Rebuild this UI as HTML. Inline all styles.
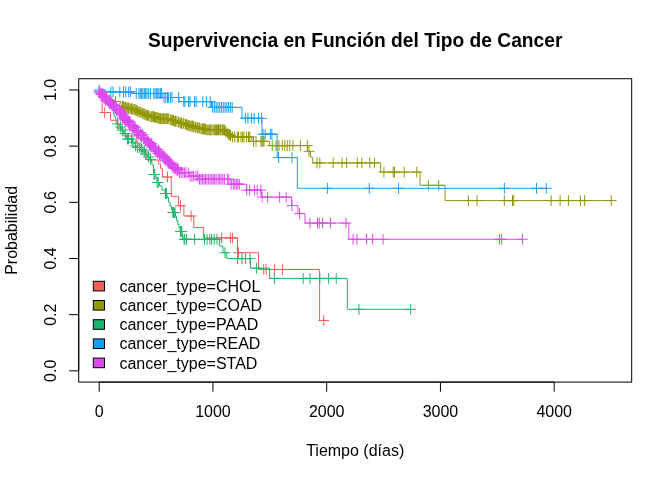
<!DOCTYPE html>
<html><head><meta charset="utf-8"><title>Supervivencia</title>
<style>svg{will-change:transform}html,body{margin:0;padding:0;background:#fff;width:672px;height:480px;overflow:hidden}svg{display:block}</style>
</head><body>
<svg width="672" height="480" viewBox="0 0 672 480">
<rect width="672" height="480" fill="#fff"/>
<path d="M99.2 89.96L102.2 89.96L102.2 112.5L110.5 112.5L110.5 120.3L118 120.3L118 128.3L123 128.3L123 136L136.9 136L136.9 144L141.5 144L141.5 152L147 152L147 160L158.3 160L158.3 164L160.5 164L160.5 168.3L162.5 168.3L162.5 177L171.3 177L171.3 196.3L178.6 196.3L178.6 205.7L183.9 205.7L183.9 216L193.75 216L193.75 227.5L203.6 227.5L203.6 237.9L237.5 237.9L237.5 252.7L258.5 252.7L258.5 269.5L319.6 269.5L319.6 320.5L323.75 320.5" fill="none" stroke="#F35E5A" stroke-width="1"/>
<path d="M99.3 112.5h10.8M104.7 107.1v10.8M162.1 177h10.8M167.5 171.6v10.8M175.1 205.7h10.8M180.5 200.3v10.8M185.7 216h10.8M191.1 210.6v10.8M216.2 237.9h10.8M221.6 232.5v10.8M225 237.9h10.8M230.4 232.5v10.8M227.1 237.9h10.8M232.5 232.5v10.8M233 252.7h10.8M238.4 247.3v10.8M258.3 269.5h10.8M263.7 264.1v10.8M260.7 269.5h10.8M266.1 264.1v10.8M269 269.5h10.8M274.4 264.1v10.8M277 269.5h10.8M282.4 264.1v10.8M318.35 320.5h10.8M323.75 315.1v10.8" fill="none" stroke="#F35E5A" stroke-width="1"/>
<path d="M99.2 89.96L99.48 89.96L99.48 90.6L100 90.6L100 91.75L100.48 91.75L100.48 92.84L100.8 92.84L100.8 93.56L101 93.56L101 94L103.16 94L103.16 94.86L105.68 94.86L105.68 95.87L106 95.87L106 96L107.01 96L107.01 96.61L107.95 96.61L107.95 97.17L109.85 97.17L109.85 98.31L111 98.31L111 99L112.96 99L112.96 100.09L113.93 100.09L113.93 100.63L115.48 100.63L115.48 101.49L115.5 101.49L120.5 101.5L120.5 101.8L120.76 101.8L120.76 103.02L121.01 103.02L121.01 104.21L121.13 104.21L121.13 104.77L121.25 104.77L121.25 105.33L121.45 105.33L121.45 106.26L121.5 106.26L121.5 106.5L124.61 106.5L124.61 107.31L127.26 107.31L127.26 108.01L130.48 108.01L130.48 108.85L132.62 108.85L132.62 109.42L135.29 109.42L135.29 110.11L136 110.11L136 110.3L137.63 110.3L137.63 111.2L138.92 111.2L138.92 111.9L140 111.9L140 112.5L141.66 112.5L141.66 113.2L143.73 113.2L143.73 114.07L145.52 114.07L145.52 114.82L146.84 114.82L146.84 115.37L149.56 115.37L149.56 116.52L150 116.52L150 116.7L155.01 116.7L155.01 117.7L158.38 117.7L158.38 118.38L160 118.38L160 118.7L170 118.7L170 119.8L171.84 119.8L171.84 120.43L174.14 120.43L174.14 121.21L177.25 121.21L177.25 122.27L180 122.27L180 123.2L184.19 123.2L184.19 124.41L187.1 124.41L187.1 125.26L190 125.26L190 126.1L193.65 126.1L193.65 127.12L196.36 127.12L196.36 127.88L199.8 127.88L199.8 128.84L200 128.84L200 128.9L206 128.9L206 129.9L223.75 129.9L224.78 129.9L224.78 130.86L225.39 130.86L225.39 131.43L226 131.43L226 132L227.11 132L227.11 133.11L227.95 133.11L227.95 133.95L228.62 133.95L228.62 134.62L229.55 134.62L229.55 135.55L230.6 135.55L230.6 136.6L231 136.6L231 137L251.8 137L251.8 141.4L269.6 141.4L269.6 145.6L307.6 145.6L307.6 151.3L310.5 151.3L310.5 157.2L312.7 157.2L312.7 162.9L380.7 162.9L380.7 172.1L420 172.1L420 185.3L445.1 185.3L445.1 200.6L611.25 200.6" fill="none" stroke="#929706" stroke-width="1"/>
<path d="M110.1 101.5h10.8M115.5 96.1v10.8M117.1 106.5h10.8M122.5 101.1v10.8M118.03 106.5h10.8M123.43 101.1v10.8M119.36 107.31h10.8M124.76 101.91v10.8M120.23 107.31h10.8M125.63 101.91v10.8M120.67 107.31h10.8M126.07 101.91v10.8M121.91 108.01h10.8M127.31 102.61v10.8M123.02 108.01h10.8M128.42 102.61v10.8M123.63 108.01h10.8M129.03 102.61v10.8M125.21 108.85h10.8M130.61 103.45v10.8M126.25 108.85h10.8M131.65 103.45v10.8M126.93 108.85h10.8M132.33 103.45v10.8M128.48 109.42h10.8M133.88 104.02v10.8M129.43 109.42h10.8M134.83 104.02v10.8M130.48 110.11h10.8M135.88 104.71v10.8M130.89 110.3h10.8M136.29 104.9v10.8M132.28 111.2h10.8M137.68 105.8v10.8M133.56 111.9h10.8M138.96 106.5v10.8M134.59 111.9h10.8M139.99 106.5v10.8M135.5 112.5h10.8M140.9 107.1v10.8M136.94 113.2h10.8M142.34 107.8v10.8M137.58 113.2h10.8M142.98 107.8v10.8M138.56 114.07h10.8M143.96 108.67v10.8M139.38 114.07h10.8M144.78 108.67v10.8M140.53 114.82h10.8M145.93 109.42v10.8M141.48 115.37h10.8M146.88 109.97v10.8M142.15 115.37h10.8M147.55 109.97v10.8M143.25 115.37h10.8M148.65 109.97v10.8M144.61 116.7h10.8M150.01 111.3v10.8M145.99 116.7h10.8M151.39 111.3v10.8M147.4 116.7h10.8M152.8 111.3v10.8M147.9 116.7h10.8M153.3 111.3v10.8M148.32 116.7h10.8M153.72 111.3v10.8M149.02 116.7h10.8M154.42 111.3v10.8M150.17 117.7h10.8M155.57 112.3v10.8M150.65 117.7h10.8M156.05 112.3v10.8M151.69 117.7h10.8M157.09 112.3v10.8M152.41 117.7h10.8M157.81 112.3v10.8M153.36 118.38h10.8M158.76 112.98v10.8M154.33 118.38h10.8M159.73 112.98v10.8M155.19 118.7h10.8M160.59 113.3v10.8M155.82 118.7h10.8M161.22 113.3v10.8M157.3 118.7h10.8M162.7 113.3v10.8M157.95 118.7h10.8M163.35 113.3v10.8M159.33 118.7h10.8M164.73 113.3v10.8M159.75 118.7h10.8M165.15 113.3v10.8M161.01 118.7h10.8M166.41 113.3v10.8M162.26 118.7h10.8M167.66 113.3v10.8M163.31 118.7h10.8M168.71 113.3v10.8M164.88 119.8h10.8M170.28 114.4v10.8M165.9 119.8h10.8M171.3 114.4v10.8M167.08 120.43h10.8M172.48 115.03v10.8M168.17 120.43h10.8M173.57 115.03v10.8M169.33 121.21h10.8M174.73 115.81v10.8M170.09 121.21h10.8M175.49 115.81v10.8M171.54 121.21h10.8M176.94 115.81v10.8M172.97 122.27h10.8M178.37 116.87v10.8M174.49 122.27h10.8M179.89 116.87v10.8M175.39 123.2h10.8M180.79 117.8v10.8M175.8 123.2h10.8M181.2 117.8v10.8M176.25 123.2h10.8M181.65 117.8v10.8M177.8 123.2h10.8M183.2 117.8v10.8M178.41 123.2h10.8M183.81 117.8v10.8M179.98 124.41h10.8M185.38 119.01v10.8M180.99 124.41h10.8M186.39 119.01v10.8M181.81 125.26h10.8M187.21 119.86v10.8M183.01 125.26h10.8M188.41 119.86v10.8M183.65 125.26h10.8M189.05 119.86v10.8M184.85 126.1h10.8M190.25 120.7v10.8M185.85 126.1h10.8M191.25 120.7v10.8M187.29 126.1h10.8M192.69 120.7v10.8M187.71 126.1h10.8M193.11 120.7v10.8M188.51 127.12h10.8M193.91 121.72v10.8M189.85 127.12h10.8M195.25 121.72v10.8M190.5 127.12h10.8M195.9 121.72v10.8M191.91 127.88h10.8M197.31 122.48v10.8M192.72 127.88h10.8M198.12 122.48v10.8M193.94 127.88h10.8M199.34 122.48v10.8M195.53 128.9h10.8M200.93 123.5v10.8M196.8 128.9h10.8M202.2 123.5v10.8M197.4 128.9h10.8M202.8 123.5v10.8M198.06 128.9h10.8M203.46 123.5v10.8M199.18 128.9h10.8M204.58 123.5v10.8M200.02 128.9h10.8M205.42 123.5v10.8M200.77 129.9h10.8M206.17 124.5v10.8M201.89 129.9h10.8M207.29 124.5v10.8M203.36 129.9h10.8M208.76 124.5v10.8M204.42 129.9h10.8M209.82 124.5v10.8M204.87 129.9h10.8M210.27 124.5v10.8M206.31 129.9h10.8M211.71 124.5v10.8M207.7 129.9h10.8M213.1 124.5v10.8M208.84 129.9h10.8M214.24 124.5v10.8M209.69 129.9h10.8M215.09 124.5v10.8M210.36 129.9h10.8M215.76 124.5v10.8M211.08 129.9h10.8M216.48 124.5v10.8M212.16 129.9h10.8M217.56 124.5v10.8M213.11 129.9h10.8M218.51 124.5v10.8M214.45 129.9h10.8M219.85 124.5v10.8M214.87 129.9h10.8M220.27 124.5v10.8M215.38 129.9h10.8M220.78 124.5v10.8M216.84 129.9h10.8M222.24 124.5v10.8M217.53 129.9h10.8M222.93 124.5v10.8M218.43 129.9h10.8M223.83 124.5v10.8M219.03 129.9h10.8M224.43 124.5v10.8M220.32 131.43h10.8M225.72 126.03v10.8M221.82 133.11h10.8M227.22 127.71v10.8M223.38 134.62h10.8M228.78 129.22v10.8M224.13 134.62h10.8M229.53 129.22v10.8M225.11 135.55h10.8M230.51 130.15v10.8M227 137h10.8M232.4 131.6v10.8M229.3 137h10.8M234.7 131.6v10.8M231.85 137h10.8M237.25 131.6v10.8M233.1 137h10.8M238.5 131.6v10.8M235.6 137h10.8M241 131.6v10.8M237.1 137h10.8M242.5 131.6v10.8M238.6 137h10.8M244 131.6v10.8M241.2 137h10.8M246.6 131.6v10.8M243.1 137h10.8M248.5 131.6v10.8M244.35 137h10.8M249.75 131.6v10.8M248.1 141.4h10.8M253.5 136v10.8M250.6 141.4h10.8M256 136v10.8M255.6 141.4h10.8M261 136v10.8M256.6 141.4h10.8M262 136v10.8M257.6 141.4h10.8M263 136v10.8M258.6 141.4h10.8M264 136v10.8M266.85 145.6h10.8M272.25 140.2v10.8M270.6 145.6h10.8M276 140.2v10.8M273.6 145.6h10.8M279 140.2v10.8M276.85 145.6h10.8M282.25 140.2v10.8M279.35 145.6h10.8M284.75 140.2v10.8M281.85 145.6h10.8M287.25 140.2v10.8M284.35 145.6h10.8M289.75 140.2v10.8M287.5 145.6h10.8M292.9 140.2v10.8M295 145.6h10.8M300.4 140.2v10.8M301.9 145.6h10.8M307.3 140.2v10.8M303.6 151.3h10.8M309 145.9v10.8M311.6 162.9h10.8M317 157.5v10.8M314.4 162.9h10.8M319.8 157.5v10.8M327.8 162.9h10.8M333.2 157.5v10.8M336.7 162.9h10.8M342.1 157.5v10.8M341.2 162.9h10.8M346.6 157.5v10.8M351.9 162.9h10.8M357.3 157.5v10.8M356.4 162.9h10.8M361.8 157.5v10.8M364.4 162.9h10.8M369.8 157.5v10.8M369.1 162.9h10.8M374.5 157.5v10.8M378.5 172.1h10.8M383.9 166.7v10.8M387.8 172.1h10.8M393.2 166.7v10.8M389.2 172.1h10.8M394.6 166.7v10.8M398.9 172.1h10.8M404.3 166.7v10.8M411.4 172.1h10.8M416.8 166.7v10.8M423 185.3h10.8M428.4 179.9v10.8M433.3 185.3h10.8M438.7 179.9v10.8M463 200.6h10.8M468.4 195.2v10.8M471.7 200.6h10.8M477.1 195.2v10.8M498.9 200.6h10.8M504.3 195.2v10.8M507.1 200.6h10.8M512.5 195.2v10.8M508.3 200.6h10.8M513.7 195.2v10.8M545.7 200.6h10.8M551.1 195.2v10.8M554.7 200.6h10.8M560.1 195.2v10.8M563 200.6h10.8M568.4 195.2v10.8M575 200.6h10.8M580.4 195.2v10.8M579.2 200.6h10.8M584.6 195.2v10.8M605.85 200.6h10.8M611.25 195.2v10.8" fill="none" stroke="#929706" stroke-width="1"/>
<path d="M99.2 89.96L100.53 89.96L100.53 91.37L102.93 91.37L102.93 93.93L103 93.93L103 94L104.01 94L104.01 95.61L105.25 95.61L105.25 97.6L106.45 97.6L106.45 99.52L107.85 99.52L107.85 101.76L108 101.76L108 102L108.75 102L108.75 103.35L109.44 103.35L109.44 104.6L110.85 104.6L110.85 107.13L111.9 107.13L111.9 109.03L113 109.03L113 111L113.3 111L113.3 112.2L113.78 112.2L113.78 114.12L114 114.12L114 115L114.63 115L114.63 116.57L115.71 116.57L115.71 119.28L116 119.28L116 120L116.09 120L116.09 121.25L116.19 121.25L116.19 122.49L116.3 122.49L116.3 124L119.3 124L119.3 124.5L119.81 124.5L119.81 126.31L120 126.31L120 127L121.27 127L121.27 128.88L122.11 128.88L122.11 130.12L123.17 130.12L123.17 131.68L124.4 131.68L124.4 133.5L125.41 133.5L125.41 135.49L126.22 135.49L126.22 137.07L127.01 137.07L127.01 138.64L127.2 138.64L127.2 139L131.75 139L131.75 140.5L132.83 140.5L132.83 142.16L133.63 142.16L133.63 143.4L135.28 143.4L135.28 145.94L136.3 145.94L136.3 147.5L141 147.5L141 149.5L142.2 149.5L142.2 151L144.43 151L144.43 153.79L144.6 153.79L144.6 154L146.32 154L146.32 155.39L148.3 155.39L148.3 157L149.91 157L149.91 159.35L151.52 159.35L151.52 161.69L152 161.69L152 162.4L152 165L153.5 165L153.5 174.5L156 174.5L156 178L157 178L157 182.5L159.5 182.5L159.5 186L162 186L162 190L165 190L165 193.5L167 193.5L167 197.5L168.5 197.5L168.5 202L170 202L170 206L171.5 206L171.5 209.5L172.5 209.5L172.5 212.5L175.5 212.5L175.5 216.5L176.5 216.5L176.5 220.5L177.8 220.5L177.8 224.5L179 224.5L179 228L180.2 228L180.2 231.5L182 231.5L182 235.5L182.6 235.5L182.6 239.3L219.6 239.3L219.6 246.1L223 246.1L223 252.7L226.8 252.7L226.8 258.6L250.5 258.6L250.5 268.2L269.6 268.2L269.6 278.4L347.3 278.4L347.3 309.3L410.7 309.3" fill="none" stroke="#18B56A" stroke-width="1"/>
<path d="M112.1 124h10.8M117.5 118.6v10.8M115.03 127h10.8M120.43 121.6v10.8M116.79 130.12h10.8M122.19 124.72v10.8M119.83 133.5h10.8M125.23 128.1v10.8M122.05 139h10.8M127.45 133.6v10.8M123.22 139h10.8M128.62 133.6v10.8M126.08 139h10.8M131.48 133.6v10.8M127.56 142.16h10.8M132.96 136.76v10.8M130.2 145.94h10.8M135.6 140.54v10.8M132.13 147.5h10.8M137.53 142.1v10.8M134.35 147.5h10.8M139.75 142.1v10.8M136.59 149.5h10.8M141.99 144.1v10.8M138.77 151h10.8M144.17 145.6v10.8M139.97 154h10.8M145.37 148.6v10.8M143.23 157h10.8M148.63 151.6v10.8M145.19 159.35h10.8M150.59 153.95v10.8M148.6 174.5h10.8M154 169.1v10.8M149.4 174.5h10.8M154.8 169.1v10.8M151.8 182.5h10.8M157.2 177.1v10.8M152.8 182.5h10.8M158.2 177.1v10.8M160.1 193.5h10.8M165.5 188.1v10.8M161.1 193.5h10.8M166.5 188.1v10.8M167.4 212.5h10.8M172.8 207.1v10.8M168.1 212.5h10.8M173.5 207.1v10.8M168.8 212.5h10.8M174.2 207.1v10.8M169.6 212.5h10.8M175 207.1v10.8M175.1 231.5h10.8M180.5 226.1v10.8M175.8 231.5h10.8M181.2 226.1v10.8M176.4 231.5h10.8M181.8 226.1v10.8M178.6 239.3h10.8M184 233.9v10.8M179.4 239.3h10.8M184.8 233.9v10.8M181.2 239.3h10.8M186.6 233.9v10.8M189.2 239.3h10.8M194.6 233.9v10.8M199.1 239.3h10.8M204.5 233.9v10.8M201.7 239.3h10.8M207.1 233.9v10.8M204.4 239.3h10.8M209.8 233.9v10.8M206.2 239.3h10.8M211.6 233.9v10.8M208.9 239.3h10.8M214.3 233.9v10.8M211.6 239.3h10.8M217 233.9v10.8M219.6 252.7h10.8M225 247.3v10.8M232.1 258.6h10.8M237.5 253.2v10.8M236.6 258.6h10.8M242 253.2v10.8M240.1 258.6h10.8M245.5 253.2v10.8M244.6 258.6h10.8M250 253.2v10.8M251.2 268.2h10.8M256.6 262.8v10.8M269 278.4h10.8M274.4 273v10.8M297.8 278.4h10.8M303.2 273v10.8M304.6 278.4h10.8M310 273v10.8M314.4 278.4h10.8M319.8 273v10.8M323.2 278.4h10.8M328.6 273v10.8M330.85 278.4h10.8M336.25 273v10.8M353.5 309.3h10.8M358.9 303.9v10.8M405.3 309.3h10.8M410.7 303.9v10.8" fill="none" stroke="#18B56A" stroke-width="1"/>
<path d="M99.2 89.96L105.4 89.96L105.4 91.9L134 91.9L134 93.5L162 93.5L162 97.5L179 97.5L179 101.6L211.5 101.6L211.5 107.4L242 107.4L242 118.3L262 118.3L262 134.2L277.2 134.2L277.2 157.6L297.3 157.6L297.3 188.3L546.3 188.3" fill="none" stroke="#149FF3" stroke-width="1"/>
<path d="M93.8 89.96h10.8M99.2 84.56v10.8M105.4 91.9h10.8M110.8 86.5v10.8M107.6 91.9h10.8M113 86.5v10.8M114.4 91.9h10.8M119.8 86.5v10.8M118.1 91.9h10.8M123.5 86.5v10.8M120.3 91.9h10.8M125.7 86.5v10.8M123.3 91.9h10.8M128.7 86.5v10.8M125 91.9h10.8M130.4 86.5v10.8M130.85 93.5h10.8M136.25 88.1v10.8M133.5 93.5h10.8M138.9 88.1v10.8M134.9 93.5h10.8M140.3 88.1v10.8M136.2 93.5h10.8M141.6 88.1v10.8M137.5 93.5h10.8M142.9 88.1v10.8M138.9 93.5h10.8M144.3 88.1v10.8M140.2 93.5h10.8M145.6 88.1v10.8M141.6 93.5h10.8M147 88.1v10.8M143.35 93.5h10.8M148.75 88.1v10.8M145.1 93.5h10.8M150.5 88.1v10.8M148.3 93.5h10.8M153.7 88.1v10.8M149.6 93.5h10.8M155 88.1v10.8M150.9 93.5h10.8M156.3 88.1v10.8M152.3 93.5h10.8M157.7 88.1v10.8M153.6 93.5h10.8M159 88.1v10.8M155 93.5h10.8M160.4 88.1v10.8M156.3 93.5h10.8M161.7 88.1v10.8M158.6 97.5h10.8M164 92.1v10.8M160.3 97.5h10.8M165.7 92.1v10.8M162.1 97.5h10.8M167.5 92.1v10.8M163 97.5h10.8M168.4 92.1v10.8M165.2 97.5h10.8M170.6 92.1v10.8M166.6 97.5h10.8M172 92.1v10.8M173.3 97.5h10.8M178.7 92.1v10.8M178.3 101.6h10.8M183.7 96.2v10.8M179.5 101.6h10.8M184.9 96.2v10.8M183.1 101.6h10.8M188.5 96.2v10.8M184.6 101.6h10.8M190 96.2v10.8M189.1 101.6h10.8M194.5 96.2v10.8M190.8 101.6h10.8M196.2 96.2v10.8M197.4 101.6h10.8M202.8 96.2v10.8M201 101.6h10.8M206.4 96.2v10.8M204.8 101.6h10.8M210.2 96.2v10.8M207.2 107.4h10.8M212.6 102v10.8M208.98 107.4h10.8M214.38 102v10.8M210.76 107.4h10.8M216.16 102v10.8M212.55 107.4h10.8M217.95 102v10.8M214.33 107.4h10.8M219.73 102v10.8M216.11 107.4h10.8M221.51 102v10.8M217.89 107.4h10.8M223.29 102v10.8M219.67 107.4h10.8M225.07 102v10.8M221.45 107.4h10.8M226.85 102v10.8M223.24 107.4h10.8M228.64 102v10.8M225.02 107.4h10.8M230.42 102v10.8M226.8 107.4h10.8M232.2 102v10.8M240 118.3h10.8M245.4 112.9v10.8M242.5 118.3h10.8M247.9 112.9v10.8M246.2 118.3h10.8M251.6 112.9v10.8M248.7 118.3h10.8M254.1 112.9v10.8M253.1 118.3h10.8M258.5 112.9v10.8M256.2 118.3h10.8M261.6 112.9v10.8M257.6 134.2h10.8M263 128.8v10.8M259.8 134.2h10.8M265.2 128.8v10.8M265 134.2h10.8M270.4 128.8v10.8M266.5 134.2h10.8M271.9 128.8v10.8M273.2 157.6h10.8M278.6 152.2v10.8M286.6 157.6h10.8M292 152.2v10.8M322 188.3h10.8M327.4 182.9v10.8M363.9 188.3h10.8M369.3 182.9v10.8M393.2 188.3h10.8M398.6 182.9v10.8M499 188.3h10.8M504.4 182.9v10.8M531.1 188.3h10.8M536.5 182.9v10.8M540.9 188.3h10.8M546.3 182.9v10.8" fill="none" stroke="#149FF3" stroke-width="1"/>
<path d="M99.2 89.96L99.41 89.96L99.41 91.02L99.79 91.02L99.79 92.94L99.8 92.94L99.8 93L100.89 93L100.89 94.21L102.23 94.21L102.23 95.7L102.5 95.7L102.5 96L104.18 96L104.18 97.68L106.03 97.68L106.03 99.53L107.04 99.53L107.04 100.54L107.98 100.54L107.98 101.48L108 101.48L108 101.5L109.72 101.5L109.72 102.92L111.93 102.92L111.93 104.73L112.25 104.73L112.25 105L113.63 105L113.63 106.43L115.33 106.43L115.33 108.2L116.46 108.2L116.46 109.37L118.41 109.37L118.41 111.41L118.5 111.41L118.5 111.5L119.32 111.5L119.32 112.44L120.13 112.44L120.13 113.37L121.49 113.37L121.49 114.92L123.26 114.92L123.26 116.94L124.44 116.94L124.44 118.3L125.46 118.3L125.46 119.46L126.68 119.46L126.68 120.87L126.8 120.87L126.8 121L127.92 121L127.92 122.17L129.28 122.17L129.28 123.59L130.71 123.59L130.71 125.09L131.84 125.09L131.84 126.27L132.97 126.27L132.97 127.44L133.5 127.44L133.5 128L134.85 128L134.85 129.45L136.01 129.45L136.01 130.7L136.87 130.7L136.87 131.63L138.64 131.63L138.64 133.53L140 133.53L140 135L141.76 135L141.76 136.67L142.94 136.67L142.94 137.79L145.14 137.79L145.14 139.88L147.18 139.88L147.18 141.82L148.28 141.82L148.28 142.86L149.64 142.86L149.64 144.16L150 144.16L150 144.5L151.46 144.5L151.46 146.25L152.5 146.25L152.5 147.5L153.98 147.5L153.98 148.91L155.97 148.91L155.97 150.8L157.76 150.8L157.76 152.51L159.09 152.51L159.09 153.77L160.77 153.77L160.77 155.38L162.83 155.38L162.83 157.34L164.84 157.34L164.84 159.25L166.43 159.25L166.43 160.76L168.11 160.76L168.11 162.36L169.1 162.36L169.1 163.31L170.35 163.31L170.35 164.5L172.31 164.5L172.31 166.35L173.3 166.35L173.3 167.3L174.54 167.3L174.54 168.41L176.28 168.41L176.28 169.97L178 169.97L178 171.5L178 172.7L188.9 172.7L188.9 176.2L199 176.2L199 179.3L231.1 179.3L231.1 184.2L246.4 184.2L246.4 190.1L261.3 190.1L261.3 197.1L291.6 197.1L291.6 205.5L297.9 205.5L297.9 213.6L305 213.6L305 223.1L348.9 223.1L348.9 239.3L522.4 239.3" fill="none" stroke="#DE4AF0" stroke-width="1"/>
<path d="M93.73 91.39h10.8M99.13 85.99v10.8M94.74 92.87h10.8M100.14 87.47v10.8M94.63 93.58h10.8M100.03 88.18v10.8M96.06 93.98h10.8M101.46 88.58v10.8M97.41 93.22h10.8M102.81 87.82v10.8M96.27 94.63h10.8M101.67 89.23v10.8M97.45 96.2h10.8M102.85 90.8v10.8M98.86 95.31h10.8M104.26 89.91v10.8M97.76 97.01h10.8M103.16 91.61v10.8M99.48 97.77h10.8M104.88 92.37v10.8M100.98 97.12h10.8M106.38 91.72v10.8M100.08 100.48h10.8M105.48 95.08v10.8M101.77 100.46h10.8M107.17 95.06v10.8M102.02 100.64h10.8M107.42 95.24v10.8M104.09 100.46h10.8M109.49 95.06v10.8M103.18 102.17h10.8M108.58 96.77v10.8M104.23 103.42h10.8M109.63 98.02v10.8M105.52 102.96h10.8M110.92 97.56v10.8M106.36 102.76h10.8M111.76 97.36v10.8M105.7 103.7h10.8M111.1 98.3v10.8M107.76 104.37h10.8M113.16 98.97v10.8M107.77 104.97h10.8M113.17 99.57v10.8M108.55 106.11h10.8M113.95 100.71v10.8M108.6 106.69h10.8M114 101.29v10.8M109.63 106.35h10.8M115.03 100.95v10.8M110.37 105.87h10.8M115.77 100.47v10.8M109.99 108.38h10.8M115.39 102.98v10.8M110.4 108.83h10.8M115.8 103.43v10.8M111.18 110.04h10.8M116.58 104.64v10.8M111.55 110.09h10.8M116.95 104.69v10.8M113.86 108.5h10.8M119.26 103.1v10.8M114.26 110.48h10.8M119.66 105.08v10.8M114.55 111.91h10.8M119.95 106.51v10.8M114.08 112.7h10.8M119.48 107.3v10.8M115.74 112.46h10.8M121.14 107.06v10.8M115.13 113.42h10.8M120.53 108.02v10.8M116.03 112.89h10.8M121.43 107.49v10.8M116.4 114.82h10.8M121.8 109.42v10.8M116.83 114.86h10.8M122.23 109.46v10.8M117.27 114.68h10.8M122.67 109.28v10.8M118.23 114.26h10.8M123.63 108.86v10.8M117.05 117.78h10.8M122.45 112.38v10.8M119.11 116.33h10.8M124.51 110.93v10.8M118.51 118.97h10.8M123.91 113.57v10.8M120.44 117.29h10.8M125.84 111.89v10.8M119.32 118.76h10.8M124.72 113.36v10.8M119.7 119.89h10.8M125.1 114.49v10.8M120.76 119.56h10.8M126.16 114.16v10.8M120.26 120.46h10.8M125.66 115.06v10.8M122.04 121.03h10.8M127.44 115.63v10.8M122.16 121.31h10.8M127.56 115.91v10.8M122.84 122.33h10.8M128.24 116.93v10.8M123.19 122.44h10.8M128.59 117.04v10.8M124.17 121.74h10.8M129.57 116.34v10.8M123.9 124.38h10.8M129.3 118.98v10.8M124.4 124.34h10.8M129.8 118.94v10.8M124.69 126.01h10.8M130.09 120.61v10.8M126.56 124.91h10.8M131.96 119.51v10.8M127.84 125.23h10.8M133.24 119.83v10.8M128.65 126.47h10.8M134.05 121.07v10.8M127.54 128.97h10.8M132.94 123.57v10.8M129.85 127.31h10.8M135.25 121.91v10.8M129.03 130.45h10.8M134.43 125.05v10.8M130.75 130.72h10.8M136.15 125.32v10.8M131.61 130.38h10.8M137.01 124.98v10.8M131.31 131.99h10.8M136.71 126.59v10.8M132.87 130.98h10.8M138.27 125.58v10.8M132.19 131.97h10.8M137.59 126.57v10.8M132.99 131.62h10.8M138.39 126.22v10.8M132.69 134.31h10.8M138.09 128.91v10.8M135.37 132.52h10.8M140.77 127.12v10.8M135.1 134.64h10.8M140.5 129.24v10.8M135.1 135.59h10.8M140.5 130.19v10.8M136.78 134.4h10.8M142.18 129v10.8M136.19 137.38h10.8M141.59 131.98v10.8M138.14 137.47h10.8M143.54 132.07v10.8M138.29 138.19h10.8M143.69 132.79v10.8M138.26 138.81h10.8M143.66 133.41v10.8M139.21 138.27h10.8M144.61 132.87v10.8M140.68 139.19h10.8M146.08 133.79v10.8M141.48 139.28h10.8M146.88 133.88v10.8M141.46 140.1h10.8M146.86 134.7v10.8M142.79 141.54h10.8M148.19 136.14v10.8M143.44 142.42h10.8M148.84 137.02v10.8M143.65 143.08h10.8M149.05 137.68v10.8M143.98 145.31h10.8M149.38 139.91v10.8M145.02 144.61h10.8M150.42 139.21v10.8M146.41 143.53h10.8M151.81 138.13v10.8M144.97 145.27h10.8M150.37 139.87v10.8M145.85 146.94h10.8M151.25 141.54v10.8M146.79 146.5h10.8M152.19 141.1v10.8M148.09 147.24h10.8M153.49 141.84v10.8M149.06 146.92h10.8M154.46 141.52v10.8M149.27 148.42h10.8M154.67 143.02v10.8M149.53 149.04h10.8M154.93 143.64v10.8M150.66 148.82h10.8M156.06 143.42v10.8M150.41 151.41h10.8M155.81 146.01v10.8M152.87 149.78h10.8M158.27 144.38v10.8M153.43 151.65h10.8M158.83 146.25v10.8M152.08 153.32h10.8M157.48 147.92v10.8M153.71 151.96h10.8M159.11 146.56v10.8M154.28 153.61h10.8M159.68 148.21v10.8M155.13 153.07h10.8M160.53 147.67v10.8M154.34 154.28h10.8M159.74 148.88v10.8M154.3 154.63h10.8M159.7 149.23v10.8M154.69 156.36h10.8M160.09 150.96v10.8M157 154.94h10.8M162.4 149.54v10.8M157.04 155.33h10.8M162.44 149.93v10.8M156.98 155.7h10.8M162.38 150.3v10.8M158.6 156.31h10.8M164 150.91v10.8M158.95 156.91h10.8M164.35 151.51v10.8M159.29 157.23h10.8M164.69 151.83v10.8M160.57 158.33h10.8M165.97 152.93v10.8M159.57 160.24h10.8M164.97 154.84v10.8M162.31 159.94h10.8M167.71 154.54v10.8M161.64 161h10.8M167.04 155.6v10.8M162.74 162.45h10.8M168.14 157.05v10.8M163.23 162.7h10.8M168.63 157.3v10.8M163.91 163.39h10.8M169.31 157.99v10.8M164.99 162.77h10.8M170.39 157.37v10.8M165.21 162.84h10.8M170.61 157.44v10.8M165.81 164.39h10.8M171.21 158.99v10.8M166.11 164.8h10.8M171.51 159.4v10.8M167.56 166.12h10.8M172.96 160.72v10.8M168.15 165.99h10.8M173.55 160.59v10.8M167.53 168.03h10.8M172.93 162.63v10.8M169.55 167.99h10.8M174.95 162.59v10.8M169.53 168.5h10.8M174.93 163.1v10.8M170.08 168.61h10.8M175.48 163.21v10.8M171.7 167.4h10.8M177.1 162v10.8M172.01 169.07h10.8M177.41 163.67v10.8M172.65 169.07h10.8M178.05 163.67v10.8M171.76 170.25h10.8M177.16 164.85v10.8M171.88 170.58h10.8M177.28 165.18v10.8M174.1 172.7h10.8M179.5 167.3v10.8M175.7 172.7h10.8M181.1 167.3v10.8M177.5 172.7h10.8M182.9 167.3v10.8M179 172.7h10.8M184.4 167.3v10.8M180.5 172.7h10.8M185.9 167.3v10.8M182.9 172.7h10.8M188.3 167.3v10.8M184.6 176.2h10.8M190 170.8v10.8M186.5 176.2h10.8M191.9 170.8v10.8M188.2 176.2h10.8M193.6 170.8v10.8M190.6 176.2h10.8M196 170.8v10.8M192.4 176.2h10.8M197.8 170.8v10.8M194.1 179.3h10.8M199.5 173.9v10.8M195.6 179.3h10.8M201 173.9v10.8M197.2 179.3h10.8M202.6 173.9v10.8M198.6 179.3h10.8M204 173.9v10.8M200.1 179.3h10.8M205.5 173.9v10.8M201.6 179.3h10.8M207 173.9v10.8M203.2 179.3h10.8M208.6 173.9v10.8M204.8 179.3h10.8M210.2 173.9v10.8M206.4 179.3h10.8M211.8 173.9v10.8M207.8 179.3h10.8M213.2 173.9v10.8M209.3 179.3h10.8M214.7 173.9v10.8M210.8 179.3h10.8M216.2 173.9v10.8M212.7 179.3h10.8M218.1 173.9v10.8M214.2 179.3h10.8M219.6 173.9v10.8M215.7 179.3h10.8M221.1 173.9v10.8M217.5 179.3h10.8M222.9 173.9v10.8M219 179.3h10.8M224.4 173.9v10.8M222 179.3h10.8M227.4 173.9v10.8M223.5 179.3h10.8M228.9 173.9v10.8M225.7 184.2h10.8M231.1 178.8v10.8M227.9 184.2h10.8M233.3 178.8v10.8M229.4 184.2h10.8M234.8 178.8v10.8M230.9 184.2h10.8M236.3 178.8v10.8M232.4 184.2h10.8M237.8 178.8v10.8M233.9 184.2h10.8M239.3 178.8v10.8M241.3 190.1h10.8M246.7 184.7v10.8M244.3 190.1h10.8M249.7 184.7v10.8M249.2 190.1h10.8M254.6 184.7v10.8M251.8 190.1h10.8M257.2 184.7v10.8M255.5 190.1h10.8M260.9 184.7v10.8M256.7 197.1h10.8M262.1 191.7v10.8M262.1 197.1h10.8M267.5 191.7v10.8M274.2 197.1h10.8M279.6 191.7v10.8M280.85 197.1h10.8M286.25 191.7v10.8M286.6 205.5h10.8M292 200.1v10.8M294.2 213.6h10.8M299.6 208.2v10.8M304.6 223.1h10.8M310 217.7v10.8M312.1 223.1h10.8M317.5 217.7v10.8M313.9 223.1h10.8M319.3 217.7v10.8M317.1 223.1h10.8M322.5 217.7v10.8M325 223.1h10.8M330.4 217.7v10.8M340.6 223.1h10.8M346 217.7v10.8M347.7 239.3h10.8M353.1 233.9v10.8M351.6 239.3h10.8M357 233.9v10.8M361.1 239.3h10.8M366.5 233.9v10.8M367.2 239.3h10.8M372.6 233.9v10.8M377.6 239.3h10.8M383 233.9v10.8M494.1 239.3h10.8M499.5 233.9v10.8M496.2 239.3h10.8M501.6 233.9v10.8M517 239.3h10.8M522.4 233.9v10.8" fill="none" stroke="#DE4AF0" stroke-width="1"/>
<rect x="78.72" y="78.72" width="552.96" height="303.36" fill="none" stroke="#000" stroke-width="1"/>
<path d="M99.2 382.08H554.2M99.2 382.08v9.6M212.95 382.08v9.6M326.7 382.08v9.6M440.45 382.08v9.6M554.2 382.08v9.6M78.72 370.84V89.96M78.72 370.84h-9.6M78.72 314.66h-9.6M78.72 258.49h-9.6M78.72 202.31h-9.6M78.72 146.14h-9.6M78.72 89.96h-9.6" fill="none" stroke="#000" stroke-width="1"/>
<text x="99.2" y="416.7" font-family="Liberation Sans, Arial, sans-serif" font-size="16" text-anchor="middle">0</text>
<text x="212.95" y="416.7" font-family="Liberation Sans, Arial, sans-serif" font-size="16" text-anchor="middle">1000</text>
<text x="326.7" y="416.7" font-family="Liberation Sans, Arial, sans-serif" font-size="16" text-anchor="middle">2000</text>
<text x="440.45" y="416.7" font-family="Liberation Sans, Arial, sans-serif" font-size="16" text-anchor="middle">3000</text>
<text x="554.2" y="416.7" font-family="Liberation Sans, Arial, sans-serif" font-size="16" text-anchor="middle">4000</text>
<text transform="translate(55.8 370.84) rotate(-90)" font-family="Liberation Sans, Arial, sans-serif" font-size="16" text-anchor="middle">0.0</text>
<text transform="translate(55.8 314.66) rotate(-90)" font-family="Liberation Sans, Arial, sans-serif" font-size="16" text-anchor="middle">0.2</text>
<text transform="translate(55.8 258.49) rotate(-90)" font-family="Liberation Sans, Arial, sans-serif" font-size="16" text-anchor="middle">0.4</text>
<text transform="translate(55.8 202.31) rotate(-90)" font-family="Liberation Sans, Arial, sans-serif" font-size="16" text-anchor="middle">0.6</text>
<text transform="translate(55.8 146.14) rotate(-90)" font-family="Liberation Sans, Arial, sans-serif" font-size="16" text-anchor="middle">0.8</text>
<text transform="translate(55.8 89.96) rotate(-90)" font-family="Liberation Sans, Arial, sans-serif" font-size="16" text-anchor="middle">1.0</text>
<text x="355.2" y="455.8" font-family="Liberation Sans, Arial, sans-serif" font-size="16" text-anchor="middle">Tiempo (días)</text>
<text transform="translate(16.7 230.4) rotate(-90)" font-family="Liberation Sans, Arial, sans-serif" font-size="16" text-anchor="middle">Probabilidad</text>
<text x="355.2" y="46.9" font-family="Liberation Sans, Arial, sans-serif" font-size="19.6" font-weight="bold" text-anchor="middle" textLength="414.4" lengthAdjust="spacingAndGlyphs">Supervivencia en Función del Tipo de Cancer</text>
<rect x="93.3" y="281.3" width="11.2" height="9.6" fill="#F35E5A" stroke="#000" stroke-width="1"/>
<text x="119.4" y="291.8" font-family="Liberation Sans, Arial, sans-serif" font-size="16">cancer_type=CHOL</text>
<rect x="93.3" y="300.5" width="11.2" height="9.6" fill="#929706" stroke="#000" stroke-width="1"/>
<text x="119.4" y="311" font-family="Liberation Sans, Arial, sans-serif" font-size="16">cancer_type=COAD</text>
<rect x="93.3" y="319.7" width="11.2" height="9.6" fill="#18B56A" stroke="#000" stroke-width="1"/>
<text x="119.4" y="330.2" font-family="Liberation Sans, Arial, sans-serif" font-size="16">cancer_type=PAAD</text>
<rect x="93.3" y="338.9" width="11.2" height="9.6" fill="#149FF3" stroke="#000" stroke-width="1"/>
<text x="119.4" y="349.4" font-family="Liberation Sans, Arial, sans-serif" font-size="16">cancer_type=READ</text>
<rect x="93.3" y="358.1" width="11.2" height="9.6" fill="#DE4AF0" stroke="#000" stroke-width="1"/>
<text x="119.4" y="368.6" font-family="Liberation Sans, Arial, sans-serif" font-size="16">cancer_type=STAD</text>
</svg>
</body></html>
